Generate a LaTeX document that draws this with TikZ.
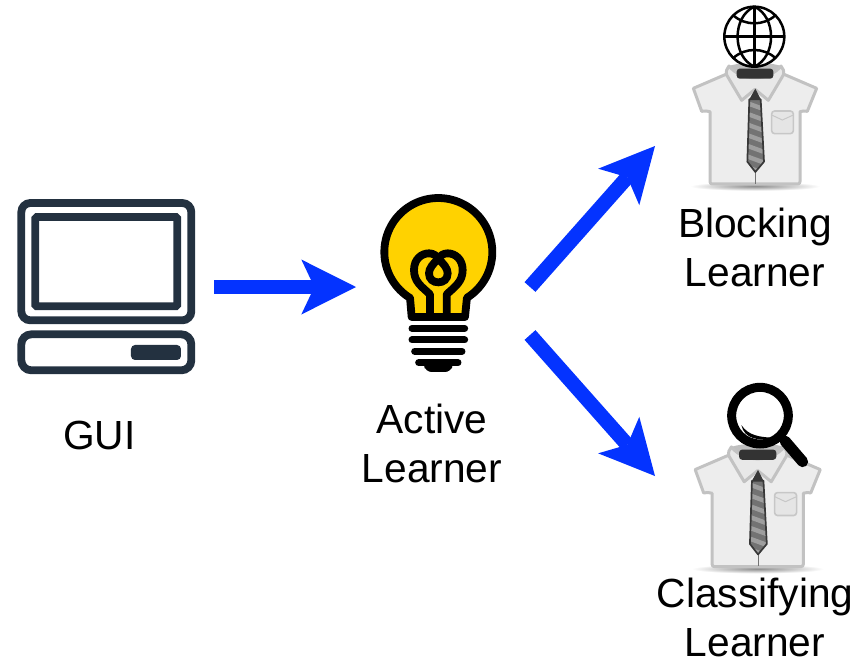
\documentclass[tikz,border=0pt]{standalone}
\usepackage{fontspec}
\setmainfont{Liberation Sans}
\usetikzlibrary{arrows.meta}
\definecolor{arrowblue}{HTML}{0433FF}
\definecolor{pcnavy}{HTML}{233140}
\definecolor{bulbyellow}{HTML}{FFD200}
\tikzset{
  flow/.style={draw=arrowblue,line width=14.6pt,-{Stealth[length=54.7pt,width=55pt,inset=13pt,fill=arrowblue,line width=0pt,sep=0pt]}},
  label text/.style={font=\fontsize{40.7}{49}\selectfont,align=center,inner sep=0pt,text=black},
  icon box/.style={inner sep=0pt,outer sep=0pt},
  pcline/.style={draw=pcnavy,line width=7.8pt},
  bulbline/.style={draw=black,line width=7.8pt},
  baseline bar/.style={draw=black,line width=7pt,line cap=round},
  shirtline/.style={draw=black!24,line width=3pt,line join=round},
  globeline/.style={draw=black,line width=2.5pt}
}
\newcommand{\shirticon}[2]{%
\begin{scope}[shift={#1},scale=#2]
  \shade[inner color=black!45,outer color=white] (-195,545) rectangle (195,572);
  \fill[black!25] (-78,198) .. controls (-40,185) and (40,185) .. (78,198)
    .. controls (40,245) and (-40,245) .. (-78,198) -- cycle;
  \path[shirtline,fill=black!7]
    (-135,335) .. controls (-143,330) and (-150,335) .. (-160,334) -- (-185,265)
    -- (-85,222) -- (85,222) -- (185,265) -- (157,334)
    .. controls (150,335) and (143,330) .. (135,335)
    -- (135,545) .. controls (135,550) and (132,552) .. (128,552)
    -- (-128,552) .. controls (-132,552) and (-135,550) .. (-135,545) -- cycle;
  \draw[black!55,line width=0.8pt] (1,512) -- (1,551);
  \path[shirtline,fill=black!9]
    (-78,198) .. controls (-85,205) and (-88,215) .. (-85,225) -- (-40,301) -- (0,268) -- (40,301)
    -- (85,225) .. controls (88,215) and (85,205) .. (78,198)
    .. controls (40,245) and (-40,245) .. (-78,198) -- cycle;
  \fill[black!80,rounded corners=3pt] (-55,206) rectangle (55,236);
  \begin{scope}
    \clip (-17,298) -- (-23,485) -- (1,516) -- (27,485) -- (17,298) -- cycle;
    \fill[black!55] (-30,290) rectangle (30,520);
    \foreach \yy in {300,332,364,396,428,460,492}
      \fill[black!38] (-30,\yy) -- (30,\yy+22) -- (30,\yy+36) -- (-30,\yy+14) -- cycle;
  \end{scope}
  \draw[black!78,line width=1.7pt,line join=round] (-17,298) -- (-23,485) -- (1,516) -- (27,485) -- (17,298) -- cycle;
  \fill[black!78] (-17,298) -- (1,266) -- (17,298) -- cycle;
  \draw[black!22,fill=black!10,line width=1.6pt,rounded corners=3pt] (50,333) rectangle (115,401);
  \draw[black!22,line width=1pt] (50,345) -- (82,360) -- (115,345);
\end{scope}}
\begin{document}
\begin{tikzpicture}[x=1pt,y=-1pt]
\useasboundingbox (0,0) rectangle (867,670);
% GUI icon
\begin{scope}[shift={(5,190)},scale=0.3333]
  \draw[pcline,rounded corners=9pt] (49,39) rectangle (559,391);
  \draw[pcline,rounded corners=1.5pt] (91,81) rectangle (517,349);
  \draw[pcline,rounded corners=10pt] (49,433) rectangle (559,541);
  \fill[pcnavy,rounded corners=4pt] (378,465) rectangle (528,510);
\end{scope}
\node[icon box,minimum width=196pt,minimum height=173pt] (gui) at (116,287) {};
\node[label text] (guilabel) at (99.5,435) {GUI};
% Bulb icon
\begin{scope}[shift={(365,185)},scale=0.3333]
  \path[bulbline,fill=bulbyellow,line join=round] (140,396) -- (135,338)
    -- plot[domain=122:418,samples=90,smooth] ({220+162*cos(\x)},{201+162*sin(\x)})
    -- (300,396) -- cycle;
  \draw[bulbline,line join=round] (195,396) -- (195,328)
    .. controls (170,305) and (147,290) .. (147,255)
    .. controls (147,222) and (170,205) .. (192,205)
    .. controls (205,205) and (215,212) .. (220,222)
    .. controls (225,212) and (235,205) .. (248,205)
    .. controls (270,205) and (293,222) .. (293,255)
    .. controls (293,290) and (270,305) .. (245,328) -- (245,396);
  \draw[bulbline] (220,222) .. controls (205,235) and (192,250) .. (192,265)
    .. controls (192,283) and (205,292) .. (220,292)
    .. controls (235,292) and (248,283) .. (248,265)
    .. controls (248,250) and (235,235) .. (220,222) -- cycle;
  \draw[baseline bar] (141,430) -- (299,430);
  \draw[baseline bar] (141,465) -- (299,465);
  \draw[baseline bar] (149,499) -- (291,499);
  \draw[baseline bar] (161,533) -- (279,533);
  \fill[black,rounded corners=6pt] (175,533) -- (265,533) -- (258,561) -- (182,561) -- cycle;
\end{scope}
\node[icon box,minimum width=164pt,minimum height=180pt] (bulb) at (438,287) {};
\node[label text] (activelabel) at (432,443) {Active\\Learner};
% Blocking learner
\shirticon{(755,0)}{0.3333}
\begin{scope}[shift={(670,0)},scale=0.3333]
  \draw[globeline,fill=white] (253,110) circle[radius=90];
  \draw[globeline] (253,20) -- (253,200);
  \draw[globeline] (163,110) -- (343,110);
  \draw[globeline] (253,20) .. controls (186,50) and (186,170) .. (253,200);
  \draw[globeline] (253,20) .. controls (320,50) and (320,170) .. (253,200);
  \draw[globeline] (190,46) .. controls (225,78) and (281,78) .. (316,46);
  \draw[globeline] (190,174) .. controls (225,142) and (281,142) .. (316,174);
\end{scope}
\node[label text] (blockinglabel) at (755,247) {Blocking\\Learner};
\coordinate (blockingin) at (655,146);
% Classifying learner
\shirticon{(757.7,380)}{0.338}
\begin{scope}[shift={(670,375)},scale=0.3333]
  \draw[black,line width=11pt,line cap=round] (345,198) -- (398,260);
  \draw[black,line width=9pt,fill=white] (270,122) circle[radius=85];
  \fill[black] (214,150) .. controls (235,182) and (270,186) .. (305,188)
    .. controls (270,200) and (222,192) .. (214,150) -- cycle;
\end{scope}
\node[label text] (classifyinglabel) at (755,617) {Classifying\\Learner};
\coordinate (classifyingin) at (655,476);
% Arrows
\coordinate (bulbup) at (530,287);
\coordinate (bulbdown) at (530,335);
\draw[flow] (gui.east) -- (bulb.west);
\draw[flow] (bulbup) -- (blockingin);
\draw[flow] (bulbdown) -- (classifyingin);
\end{tikzpicture}
\end{document}
